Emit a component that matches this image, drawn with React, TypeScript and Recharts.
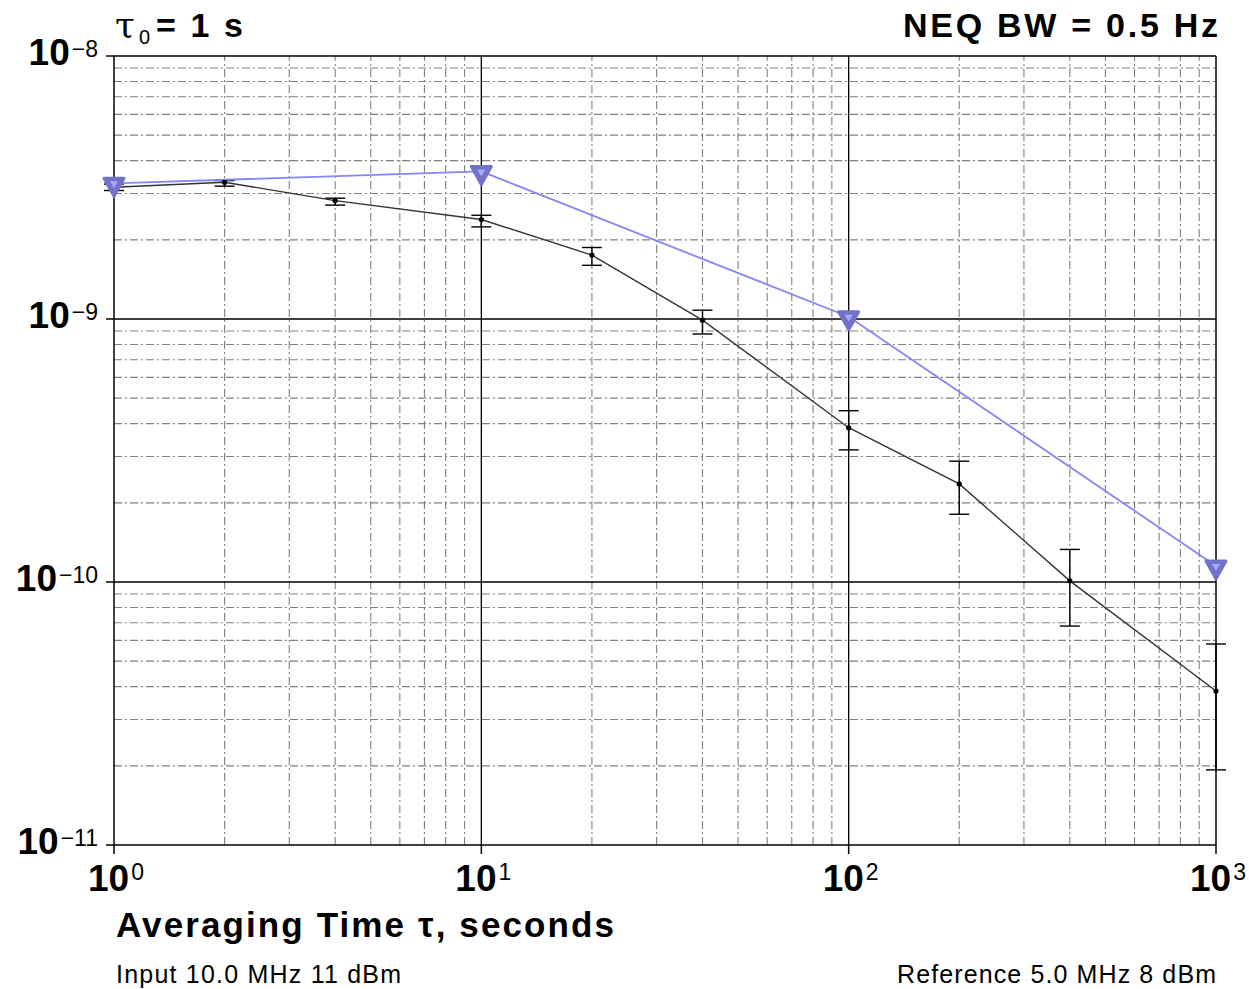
import React from "react";
import {
  ComposedChart,
  Line,
  XAxis,
  YAxis,
  ErrorBar,
  ReferenceLine,
} from "recharts";

// measured Allan deviation (black)
const taus = [1, 2, 4, 10, 20, 40, 100, 200, 400, 1000];
const adev = [3.17e-9, 3.31e-9, 2.82e-9, 2.39e-9, 1.75e-9, 9.9e-10, 3.86e-10, 2.36e-10, 1.01e-10, 3.85e-11];
const adevUpper = [3.26e-9, 3.36e-9, 2.88e-9, 2.48e-9, 1.87e-9, 1.08e-9, 4.48e-10, 2.88e-10, 1.33e-10, 5.81e-11];
const adevLower = [3.08e-9, 3.2e-9, 2.71e-9, 2.24e-9, 1.6e-9, 8.77e-10, 3.18e-10, 1.81e-10, 6.8e-11, 1.93e-11];

// spec limit (blue triangles)
const limitTaus = [1, 10, 100, 1000];
const limitValues = [3.28e-9, 3.64e-9, 1.02e-9, 1.15e-10];

const xTicks = [1, 10, 100, 1000];
const xExponents = ["0", "1", "2", "3"];
const yTicks = [1e-11, 1e-10, 1e-9, 1e-8];
const yExponents = ["\u221211", "\u221210", "\u22129", "\u22128"];
const minorMultipliers = [2, 3, 4, 5, 6, 7, 8, 9];

const measured = taus.map((t, i) => ({
  tau: t,
  adev: adev[i],
  err: [adev[i] - adevLower[i], adevUpper[i] - adev[i]],
}));
const limit = limitTaus.map((t, i) => ({ tau: t, limit: limitValues[i] }));

const minorX = [1, 10, 100].flatMap((d) => minorMultipliers.map((m) => m * d));
const minorY = [1e-11, 1e-10, 1e-9].flatMap((d) => minorMultipliers.map((m) => m * d));

const FONT = "'Liberation Sans', Arial, Helvetica, sans-serif";

const closest = (ticks: number[], v: number) => {
  let best = 0;
  ticks.forEach((t, i) => {
    if (Math.abs(Math.log10(t) - Math.log10(v)) < Math.abs(Math.log10(ticks[best]) - Math.log10(v))) best = i;
  });
  return best;
};

const XTick = (props: any) => {
  const { x, y, payload } = props;
  const i = closest(xTicks, payload.value);
  return (
    <text x={x + 2} y={y + 35} textAnchor="middle" fontFamily={FONT} fill="#000">
      <tspan fontSize={37} fontWeight="bold">10</tspan>
      <tspan fontSize={23} dy={-11} dx={2}>{xExponents[i]}</tspan>
    </text>
  );
};

const YTick = (props: any) => {
  const { x, y, payload } = props;
  const i = closest(yTicks, payload.value);
  return (
    <text x={x - 6} y={y + 9} textAnchor="end" fontFamily={FONT} fill="#000">
      <tspan fontSize={37} fontWeight="bold">10</tspan>
      <tspan fontSize={23} dy={-8} dx={2}>{yExponents[i]}</tspan>
    </text>
  );
};

const TriangleDot = (props: any) => {
  const { cx, cy, index } = props;
  if (cx == null || cy == null) return null;
  return (
    <g key={"tri" + index}>
      <polygon
        points={`${cx - 10},${cy - 5} ${cx + 10},${cy - 5} ${cx},${cy + 13}`}
        fill="#7272cc"
        stroke="#7272cc"
        strokeWidth={3}
        strokeLinejoin="round"
      />
      <polygon points={`${cx - 4},${cy - 2} ${cx + 4},${cy - 2} ${cx},${cy + 5}`} fill="#a8a8f6" />
    </g>
  );
};

const SmallDot = (props: any) => {
  const { cx, cy, index } = props;
  if (cx == null || cy == null) return null;
  return <circle key={"d" + index} cx={cx} cy={cy} r={2.6} fill="#000" />;
};

export default function App() {
  return (
    <div style={{ position: "absolute", left: 0, top: 0, width: 1249, height: 989, background: "#fff" }}>
      <ComposedChart
        width={1249}
        height={989}
        margin={{ top: 56, right: 33, bottom: 94, left: 14 }}
      >
        <XAxis
          dataKey="tau"
          type="number"
          scale="log"
          domain={[1, 1000]}
          ticks={xTicks}
          height={50}
          tickSize={9}
          tick={<XTick />}
          axisLine={{ stroke: "#000", strokeWidth: 1.5 }}
          tickLine={{ stroke: "#000", strokeWidth: 1.5 }}
        />
        <YAxis
          type="number"
          scale="log"
          domain={[1e-11, 1e-8]}
          ticks={yTicks}
          width={100}
          tickSize={8}
          tick={<YTick />}
          axisLine={{ stroke: "#000", strokeWidth: 1.5 }}
          tickLine={{ stroke: "#000", strokeWidth: 1.5 }}
        />
        {minorX.map((v) => (
          <ReferenceLine key={"mx" + v} x={v} stroke="#808080" strokeWidth={1.1} strokeDasharray="8 3 2 3" />
        ))}
        {minorY.map((v) => (
          <ReferenceLine key={"my" + v} y={v} stroke="#808080" strokeWidth={1.1} strokeDasharray="8 3 2 3" />
        ))}
        {[10, 100].map((v) => (
          <ReferenceLine key={"Mx" + v} x={v} stroke="#000" strokeWidth={1.3} />
        ))}
        {[1e-10, 1e-9].map((v) => (
          <ReferenceLine key={"My" + v} y={v} stroke="#000" strokeWidth={1.3} />
        ))}
        <ReferenceLine x={1000} stroke="#000" strokeWidth={1.5} />
        <ReferenceLine y={1e-8} stroke="#000" strokeWidth={1.5} />
        <Line
          data={measured}
          dataKey="adev"
          stroke="#333"
          strokeWidth={1.4}
          dot={<SmallDot />}
          activeDot={false}
          isAnimationActive={false}
        >
          <ErrorBar dataKey="err" width={10} stroke="#000" strokeWidth={1.4} isAnimationActive={false} />
        </Line>
        <Line
          data={limit}
          dataKey="limit"
          stroke="#8585f8"
          strokeWidth={1.8}
          dot={<TriangleDot />}
          activeDot={false}
          isAnimationActive={false}
        />
      </ComposedChart>
      <svg
        width={1249}
        height={989}
        style={{ position: "absolute", left: 0, top: 0, pointerEvents: "none" }}
      >
        <text x={115} y={37} fontFamily="'DejaVu Serif', 'Liberation Serif', serif" fontSize={36} fill="#000">
          {"\u03c4"}
        </text>
        <text x={139} y={44} fontFamily={FONT} fontSize={20} fill="#000">0</text>
        <text x={156} y={37} fontFamily={FONT} fontSize={34} fontWeight="bold" fill="#000" textLength={87} lengthAdjust="spacing">
          = 1 s
        </text>
        <text x={1218} y={37} textAnchor="end" fontFamily={FONT} fontSize={34} fontWeight="bold" fill="#000" textLength={315} lengthAdjust="spacing">
          NEQ BW = 0.5 Hz
        </text>
        <text x={116} y={937} fontFamily={FONT} fontSize={35} fontWeight="bold" fill="#000" textLength={498} lengthAdjust="spacing">
          Averaging Time {"\u03c4"}, seconds
        </text>
        <text x={116} y={983} fontFamily={FONT} fontSize={25} fill="#000" textLength={285} lengthAdjust="spacing">
          Input 10.0 MHz 11 dBm
        </text>
        <text x={1216} y={983} textAnchor="end" fontFamily={FONT} fontSize={25} fill="#000" textLength={319} lengthAdjust="spacing">
          Reference 5.0 MHz 8 dBm
        </text>
      </svg>
    </div>
  );
}
